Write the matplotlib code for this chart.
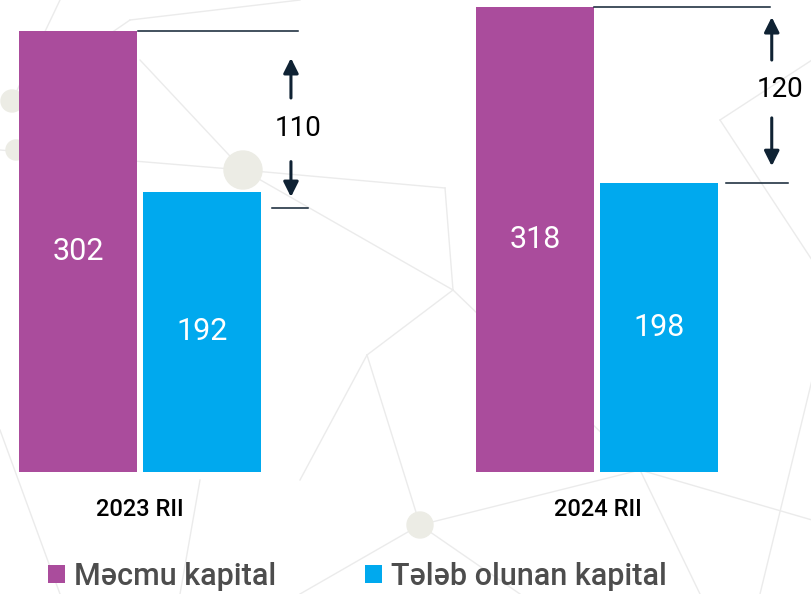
import matplotlib.pyplot as plt
import numpy as np

plt.rcParams['font.family'] = ['Roboto', 'DejaVu Sans']

# data
periods = ["2023 RII", "2024 RII"]
total_capital = [302, 318]       # Məcmu kapital
required_capital = [192, 198]    # Tələb olunan kapital
differences = [110, 120]
series_names = ["Məcmu kapital", "Tələb olunan kapital"]

purple = "#aa4c9c"
blue = "#00a9ee"
dark = "#0f2233"

fig = plt.figure(figsize=(8.12, 5.94), dpi=100)

# faint network background (decoration only)
bg = fig.add_axes([0, 0, 1, 1], zorder=0)
bg.set_xlim(0, 812)
bg.set_ylim(594, 0)
bg.axis('off')
bg_lines = [((243, 170), (445, 188)), ((445, 188), (453, 290)), ((453, 290), (367, 355)),
            ((367, 355), (420, 525)), ((243, 170), (453, 290)), ((0, 150), (243, 170)),
            ((243, 170), (140, 60)), ((12, 101), (60, 0)), ((12, 101), (130, 20)),
            ((420, 525), (640, 470)), ((420, 525), (520, 594)), ((420, 525), (300, 594)),
            ((640, 470), (812, 520)), ((640, 470), (700, 594)), ((200, 480), (180, 594)),
            ((367, 355), (300, 480)), ((453, 290), (640, 470)), ((130, 20), (300, 0)),
            ((720, 120), (812, 60)), ((720, 120), (812, 260)), ((812, 380), (760, 594)),
            ((0, 430), (60, 594))]
for (x0, y0), (x1, y1) in bg_lines:
    bg.plot([x0, x1], [y0, y1], color="#ebebeb", lw=1, zorder=0)
for (cx, cy, r) in [(243, 170, 19), (12, 101, 11), (16, 150, 10), (420, 525, 13)]:
    bg.add_patch(plt.Circle((cx, cy), r, color="#ecece5", zorder=0))

ax = fig.add_axes([0, 0, 1, 1], zorder=1)
ax.patch.set_alpha(0)
ax.set_xlim(-0.306, 1.469)
ax.set_ylim(-83.5, 323.1)
ax.axis('off')

x = np.arange(len(periods))
w = 0.258
off = 0.1355

b1 = ax.bar(x - off, total_capital, width=w, color=purple, label=series_names[0])
b2 = ax.bar(x + off, required_capital, width=w, color=blue, label=series_names[1])

for bars, vals in [(b1, total_capital), (b2, required_capital)]:
    for rect, v in zip(bars, vals):
        ax.text(rect.get_x() + rect.get_width() / 2, v / 2, str(v),
                ha='center', va='center', color='white', fontsize=22)

for xi, p in zip(x, periods):
    ax.text(xi, -26, p, ha='center', va='center', fontsize=17,
            fontweight='medium', color='black')

# difference markers
low_lines = [181, 198]
top_span = [(-0.004, 0.345), (-0.008, 0.377)]
low_span = [(0.289, 0.367), (0.281, 0.416)]
arrow_x = [0.330, 0.381]
label_x = [0.345, 0.399]
up_arrow = [(0.154, 0.38), (0.055, 0.30)]     # tip, tail as fraction of gap below top
down_arrow = [(0.06, 0.26), (0.095, 0.37)]    # tip, tail as fraction of gap above low
label_frac = [0.445, 0.53]
for i, xi in enumerate(x):
    top = total_capital[i]
    low = low_lines[i]
    gap = top - low
    ax.plot([xi + top_span[i][0], xi + top_span[i][1]], [top, top], color=dark, lw=1.1)
    ax.plot([xi + low_span[i][0], xi + low_span[i][1]], [low, low], color=dark, lw=1.1)
    ax_ = xi + arrow_x[i]
    ax.annotate("", xy=(ax_, top - up_arrow[i][0] * gap), xytext=(ax_, top - up_arrow[i][1] * gap),
                arrowprops=dict(arrowstyle="-|>,head_length=0.9,head_width=0.45",
                                color=dark, lw=2.2, shrinkA=0, shrinkB=0))
    ax.annotate("", xy=(ax_, low + down_arrow[i][0] * gap), xytext=(ax_, low + down_arrow[i][1] * gap),
                arrowprops=dict(arrowstyle="-|>,head_length=0.9,head_width=0.45",
                                color=dark, lw=2.2, shrinkA=0, shrinkB=0))
    ax.text(xi + label_x[i], low + label_frac[i] * gap, str(differences[i]),
            ha='center', va='center', fontsize=20, color='black')

leg = fig.legend(handles=[b1, b2], loc='center left', bbox_to_anchor=(0.059, 0.03),
                 ncol=2, frameon=False, fontsize=22, handlelength=0.55,
                 handleheight=0.55, handletextpad=0.3, columnspacing=2.9,
                 borderaxespad=0, borderpad=0, prop=dict(size=22, weight='medium'))
for t in leg.get_texts():
    t.set_color("#4d4d4d")

fig.savefig("out.png", dpi=100)
